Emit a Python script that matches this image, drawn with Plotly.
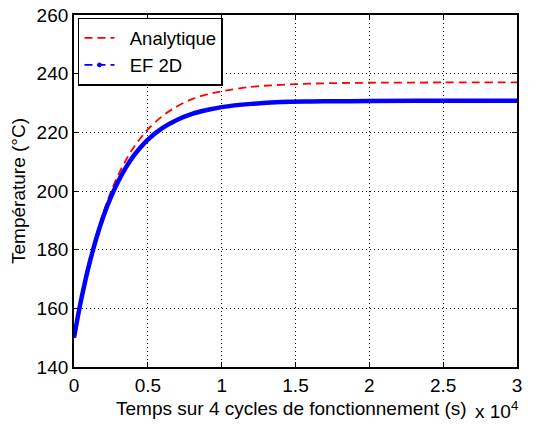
import plotly.graph_objects as go

# time (s)
t = [0, 250, 500, 750, 1000, 1500, 2000, 2500, 3000, 3500, 4000, 4500, 5000,
     6000, 7000, 8000, 9000, 10000, 12000, 14000, 16000, 18000, 20000, 25000, 30000]
analytique = [150.0, 157.0, 163.6, 169.6, 175.0, 184.6, 192.8, 199.7, 205.5, 210.4, 214.6, 218.0, 221.0,
              225.6, 228.9, 231.3, 232.9, 234.0, 235.5, 236.2, 236.6, 236.8, 236.9, 237.0, 237.0]
ef2d = [150.0, 156.9, 163.3, 169.1, 174.4, 183.7, 191.5, 197.9, 203.3, 207.9, 211.7, 214.8, 217.5,
        221.5, 224.3, 226.3, 227.6, 228.6, 229.7, 230.3, 230.5, 230.6, 230.7, 230.8, 230.8]

xtick_vals = [0, 5000, 10000, 15000, 20000, 25000, 30000]
xtick_text = ["0", "0.5", "1", "1.5", "2", "2.5", "3"]
ytick_vals = [140, 160, 180, 200, 220, 240, 260]

font = "Liberation Sans, Arial, sans-serif"
fs = 19
NB = "\u00a0"

fig = go.Figure()
fig.add_trace(go.Scatter(x=t, y=analytique, mode="lines", name=NB * 2 + "Analytique",
                         line=dict(color="#ff0000", width=1.8, dash="8px,5px", shape="spline")))
fig.add_trace(go.Scatter(x=t, y=ef2d, mode="lines", name="EF 2D", showlegend=False,
                         line=dict(color="#0000ff", width=4.5, shape="spline")))
fig.add_trace(go.Scatter(x=[None], y=[None], mode="lines+markers", name=NB * 2 + "EF 2D",
                         line=dict(color="#0000ff", width=1.8, dash="8px,5px"),
                         marker=dict(color="#0000ff", size=4, symbol="asterisk", line=dict(color="#0000ff", width=1.5))))

axis_common = dict(showline=True, linecolor="black", linewidth=1.8, mirror="ticks",
                   ticks="inside", ticklen=5, tickcolor="black", tickwidth=1.2,
                   showgrid=True, gridcolor="black", griddash="1px,3px", gridwidth=1,
                   zeroline=False, automargin=False,
                   tickfont=dict(family=font, size=fs, color="black"))

fig.update_xaxes(range=[0, 30000], tickvals=xtick_vals, ticktext=xtick_text, **axis_common)
fig.update_yaxes(range=[140, 260], tickvals=ytick_vals,
                 title=dict(text="Température (°C)",
                            font=dict(family=font, size=fs, color="black"), standoff=6),
                 **axis_common)

fig.add_annotation(x=(291 - 74) / 443, y=0, xref="paper", yref="paper", xanchor="center", yanchor="middle",
                   yshift=-41, showarrow=False,
                   text="Temps sur 4 cycles de fonctionnement (s)", font=dict(family=font, size=fs, color="black"))
fig.add_annotation(x=(473 - 74) / 443, y=0, xref="paper", yref="paper", xanchor="left", yanchor="middle",
                   yshift=-43, showarrow=False,
                   text="x 10<sup>4</sup>", font=dict(family=font, size=fs, color="black"))

fig.update_layout(width=538, height=426, margin=dict(l=74, r=21, t=15, b=59),
                  plot_bgcolor="white", paper_bgcolor="white",
                  font=dict(family=font, size=fs, color="black"),
                  legend=dict(x=0.009, y=0.992, xanchor="left", yanchor="top",
                              bgcolor="white", bordercolor="black", borderwidth=1.5,
                              font=dict(family=font, size=18.5, color="black"),
                              tracegroupgap=0))
fig.write_html("out.html", config={"displayModeBar": False},
               post_script="document.body.style.margin='0';")
